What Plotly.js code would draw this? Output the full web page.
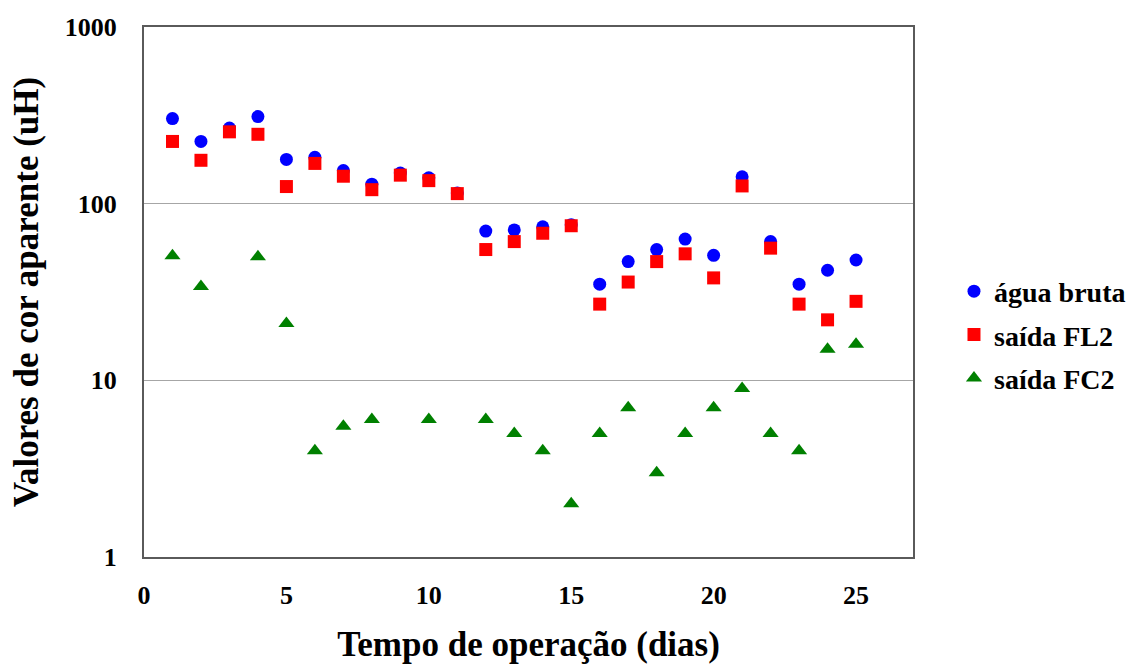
<!DOCTYPE html>
<html>
<head>
<meta charset="utf-8">
<script src="https://cdn.plot.ly/plotly-3.0.1.min.js"></script>
<style>html,body{margin:0;padding:0;background:#fff;}#chart{width:1133px;height:668px;}</style>
</head>
<body>
<div id="chart"></div>
<script>
const days = [1,2,3,4,5,6,7,8,9,10,11,12,13,14,15,16,17,18,19,20,21,22,23,24,25];
const aguaBruta = [303,225,268,311,178,183,154,129,149,140,115,70,71,74,76,35,47,55,63,51,142,61,35,42,48];
const saidaFL2 = [225,176,255,247,125,169,143,120,145,135,114,55,61,68,75,27,36,47,52,38,126,56,27,22,28];
const daysFC2 = [1,2,4,5,6,7,8,10,12,13,14,15,16,17,18,19,20,21,22,23,24,25];
const saidaFC2 = [50.7,34,50,21,4,5.5,6,6,6,5,4,2,5,7,3,5,7,9,5,4,15,16];
const seriesNames = ['água bruta','saída FL2','saída FC2'];
const xTicks = [0,5,10,15,20,25];
const yTicks = [1,10,100,1000];
const yTickText = ['1','10','100','1000'];

const font = 'Liberation Serif, Times New Roman, serif';
const traces = [
  {x: days, y: aguaBruta, name: seriesNames[0], legendgroup:'a', mode:'markers', type:'scatter',
   marker:{symbol:'circle', size:13, color:'#0000ff'}},
  {x: days, y: saidaFL2, name: seriesNames[1], legendgroup:'b', mode:'markers', type:'scatter',
   marker:{symbol:'square', size:13, color:'#ff0000'}},
  {x: daysFC2, y: saidaFC2, name: seriesNames[2], legendgroup:'c', mode:'markers', type:'scatter',
   marker:{symbol:'triangle-up', size:14, color:'#008000'}}
];
const layout = {
  width:1133, height:668,
  margin:{l:144, r:220, t:27, b:111},
  paper_bgcolor:'#ffffff', plot_bgcolor:'#ffffff',
  font:{family:font, color:'#000', size:26, weight:'bold'},
  showlegend:true,
  legend:{xref:'container', yref:'container', x:0.842, y:0.4985, xanchor:'left', yanchor:'middle',
    font:{family:font, size:28, color:'#000', weight:'bold'}, tracegroupgap:4, itemsizing:'trace', itemwidth:30, bgcolor:'rgba(0,0,0,0)'},
  xaxis:{range:[0,27], tickvals:xTicks, ticktext:xTicks.map(String), showgrid:false, zeroline:false,
    showline:true, mirror:true, linecolor:'#5a5a5a', linewidth:2, ticks:'', ticklabelstandoff:14,
    tickfont:{family:font, size:26, color:'#000', weight:'bold'},
    title:{text:'Tempo de operação (dias)', font:{family:font, size:35, color:'#000', weight:'bold'}, standoff:22}},
  yaxis:{type:'log', range:[0,3], tickvals:yTicks, ticktext:yTickText, showgrid:true, gridcolor:'#a6a6a6', gridwidth:1,
    zeroline:false, showline:true, mirror:true, linecolor:'#5a5a5a', linewidth:2, ticks:'', ticklabelstandoff:20,
    tickfont:{family:font, size:26, color:'#000', weight:'bold'},
    title:{text:'Valores de cor aparente (uH)', font:{family:font, size:35, color:'#000', weight:'bold'}, standoff:16}}
};
Plotly.newPlot('chart', traces, layout, {displayModeBar:false, staticPlot:true});
</script>
</body>
</html>
